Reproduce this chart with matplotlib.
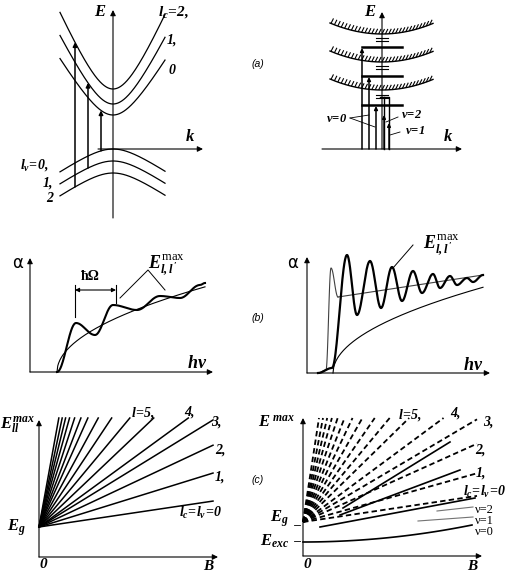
import numpy as np
import matplotlib.pyplot as plt
from matplotlib import transforms
from matplotlib.collections import LineCollection

plt.rcParams['mathtext.fontset'] = 'custom'
plt.rcParams['mathtext.rm'] = 'Liberation Serif:italic:bold'
plt.rcParams['mathtext.it'] = 'Liberation Serif:italic:bold'
plt.rcParams['mathtext.bf'] = 'Liberation Serif:bold'
plt.rcParams['mathtext.sf'] = 'Liberation Serif'
SERIF = 'Liberation Serif'

# ---- (a) left: Landau subbands vs k (panel units = px, E up) ----
a1_cond_E0 = [34, 45, 60]        # l_c = 0, 1, 2
a1_cond_A = [42, 51, 57]
a1_val_E0 = [0, -12, -24]        # l_v = 0, 1, 2
a1_val_A = [17, 17, 17]
a1_trans_k = [-12, -25, -38]     # l_v -> l_c transitions, l = 0, 1, 2

# ---- (a) right: exciton levels under hatched subbands ----
a2_band_E0 = [59, 87, 115]
a2_band_rise = 11
a2_levels = [44, 73, 102]
a2_marks = [54, 83, 111]
a2_arrow_k = [-20, -13, -6]
a2_arrow_top = [102, 73, 44]

# ---- (b) absorption spectra ----
b1_edge = 27
b1_sqrt_c = 7.0
b1_osc_x = [27, 46, 65, 83, 107, 130, 150, 170, 175]
b1_osc_y = [0, 49, 37, 67, 62, 76, 74, 87, 89]

b2_exc_x = [11, 19, 24, 31]
b2_exc_y = [0, 3, 105, 76]
b2_cont_end = (176, 98)
b2_osc_x = [11, 25, 40, 50, 63, 74, 85, 95, 106, 115, 126, 133, 143, 150, 160, 166, 176]
b2_osc_y = [0, 5, 118, 58, 112, 65, 106, 72, 102, 80, 99, 85, 97, 88, 95, 91, 98]
b2_edge = 26
b2_sqrt_c = 7.0

# ---- (c) fan charts vs B ----
c1_Eg = 30
c1_slopes = [0.149, 0.31, 0.47, 0.615, 0.73, 0.95, 1.2, 1.5, 1.84, 2.23,
             2.6, 3.06, 3.57, 4.1, 4.7, 5.5]
c2_Eg = 34
c2_Eexc = 14
c2_slopes = [0.15, 0.28, 0.45, 0.59, 0.74, 0.98, 1.2, 1.45, 1.75, 2.1,
             2.5, 3.0, 3.6, 4.3, 5.2, 6.5]
c2_solid = [((17, 29), (172, 58)), ((37, 41), (157, 86)), ((40, 48), (147, 114))]
c2_gray = [((134, 45), (170, 49)), ((115, 35), (170, 39))]
c2_nu0_end = (169, 31)

fig = plt.figure(figsize=(5.2, 5.72), dpi=100)
ax = fig.add_axes([0, 0, 1, 1])
ax.set_xlim(0, 520)
ax.set_ylim(0, 572)
ax.axis('off')


def tr(ox, oy):
    return transforms.Affine2D().translate(ox, 572 - oy) + ax.transData


def arrow(t, x0, y0, x1, y1, lw=0.8, ms=8):
    ax.annotate('', xy=(x1, y1), xytext=(x0, y0), xycoords=t, textcoords=t,
                arrowprops=dict(arrowstyle='-|>', color='k', lw=lw,
                                mutation_scale=ms, shrinkA=0, shrinkB=0))


def lab(t, x, y, s, size=10, **kw):
    kw.setdefault('family', SERIF)
    kw.setdefault('style', 'italic')
    kw.setdefault('weight', 'bold')
    ax.text(x, y, s, transform=t, fontsize=size, ha='center', va='center', **kw)


def through(xs, ys, n=40):
    X, Y = [], []
    for i in range(len(xs) - 1):
        t = np.linspace(0, 1, n)
        s = (1 - np.cos(np.pi * t)) / 2
        X.append(xs[i] + (xs[i + 1] - xs[i]) * t)
        Y.append(ys[i] + (ys[i + 1] - ys[i]) * s)
    return np.concatenate(X), np.concatenate(Y)


def hyp(k, b=25.0):
    return np.sqrt(1 + (k / b) ** 2) - 1


# ================= (a) left =================
t = tr(113, 149)
k = np.linspace(-53, 52, 200)
for E0, A in zip(a1_cond_E0, a1_cond_A):
    ax.plot(k, E0 + A * hyp(k), color='k', lw=0.9, transform=t)
for E0, A in zip(a1_val_E0, a1_val_A):
    ax.plot(k, E0 - A * hyp(k), color='k', lw=0.9, transform=t)
arrow(t, 0, -69, 0, 139)
arrow(t, -15, 0, 90, 0)
for kk, i in zip(a1_trans_k, range(3)):
    e0 = a1_val_E0[i] - a1_val_A[i] * hyp(kk)
    e1 = a1_cond_E0[i] + a1_cond_A[i] * hyp(kk)
    arrow(t, kk, e0, kk, e1, lw=1.1, ms=6)
lab(t, -13, 137, 'E', 12)
lab(t, 77, 12, 'k', 12)
lab(t, 60, 137, r'$l_c\!=\!2,$', 11)
lab(t, 59, 109, '1,', 10)
lab(t, 59, 79, '0', 10)
lab(t, -79, -16, r'$l_v\!=\!0,$', 10)
lab(t, -65, -34, '1,', 10)
lab(t, -63, -49, '2', 10)

# ================= (a) right =================
t = tr(382, 149)
k = np.linspace(-52, 51, 200)
for E0 in a2_band_E0:
    ax.plot(k, E0 + a2_band_rise * (k / 52) ** 2, color='k', lw=1.0, transform=t)
    kh = np.arange(-51, 50, 3.4)
    eh = E0 + a2_band_rise * (kh / 52) ** 2
    segs = [[(x, y), (x + 2.5, y + 5)] for x, y in zip(kh, eh)]
    ax.add_collection(LineCollection(segs, colors='k', lw=0.8, transform=t))
for E in a2_levels:
    ax.plot([-20, 20], [E, E], color='k', lw=1.8, transform=t)
for E in a2_marks:
    for dE in (0, -3):
        ax.plot([-6, 6], [E + dE, E + dE], color='k', lw=0.8, transform=t)
arrow(t, 0, 0, 0, 137)
arrow(t, -60, 0, 80, 0)
for kk, top in zip(a2_arrow_k, a2_arrow_top):
    arrow(t, kk, 0, kk, top - 1, lw=1.1, ms=5)
ax.plot([2, 2], [0, 52], color='k', lw=1.0, transform=t)
ax.plot([-2, 7, 7], [52, 52, 0], color='k', lw=1.0, transform=t)
arrow(t, 2, 0, 2, 34, lw=1.0, ms=5)
arrow(t, 7, 0, 7, 26, lw=1.0, ms=5)
lab(t, -12, 137, 'E', 12)
lab(t, 66, 12, 'k', 12)
lab(t, -45, 30, r'$\nu\!=\!0$', 9)
ax.plot([-32, -13], [31, 34], color='k', lw=0.6, transform=t)
ax.plot([-32, -7], [31, 22], color='k', lw=0.6, transform=t)
lab(t, 30, 34, r'$\nu\!=\!2$', 9)
ax.plot([16, 4], [32, 27], color='k', lw=0.6, transform=t)
lab(t, 33, 18, r'$\nu\!=\!1$', 9)
ax.plot([18, 8], [17, 14], color='k', lw=0.6, transform=t)

# ================= (b) left =================
t = tr(30, 372)
arrow(t, 0, 0, 0, 114)
arrow(t, 0, 0, 183, 0)
x = np.linspace(b1_edge, 175, 200)
ax.plot(x, b1_sqrt_c * np.sqrt(x - b1_edge), color='k', lw=0.8, transform=t)
ox, oy = through(b1_osc_x, b1_osc_y)
ax.plot(ox, oy, color='k', lw=1.5, transform=t)
ax.plot([45, 45], [55, 87], color='k', lw=0.8, transform=t)
ax.plot([86, 86], [69, 87], color='k', lw=0.8, transform=t)
ax.annotate('', xy=(45, 82), xytext=(86, 82), xycoords=t, textcoords=t,
            arrowprops=dict(arrowstyle='<|-|>', color='k', lw=0.8,
                            mutation_scale=6, shrinkA=0, shrinkB=0))
lab(t, 60, 96, 'ħΩ', 10, style='normal')
lab(t, 136, 107, r"$E^{\mathsf{max}}_{l,l'}$", 13)
ax.plot([90, 118, 135], [74, 102, 82], color='k', lw=0.7, transform=t)
lab(t, -12, 109, 'α', 12, family='DejaVu Sans', style='normal', weight='normal')
lab(t, 167, 8, r'$h\nu$', 13)

# ================= (b) right =================
t = tr(307, 373)
arrow(t, 0, 0, 0, 116)
arrow(t, 0, 0, 183, 0)
ex, ey = through(b2_exc_x, b2_exc_y)
ax.plot(ex, ey, color='0.25', lw=0.8, transform=t)
ax.plot([b2_exc_x[-1], b2_cont_end[0]], [b2_exc_y[-1], b2_cont_end[1]],
        color='0.25', lw=0.8, transform=t)
ox, oy = through(b2_osc_x, b2_osc_y)
ax.plot(ox, oy, color='k', lw=1.6, transform=t)
x = np.linspace(b2_edge, 176, 200)
ax.plot(x, b2_sqrt_c * np.sqrt(x - b2_edge), color='k', lw=0.8, transform=t)
lab(t, 134, 128, r"$E^{\mathsf{max}}_{l,l'}$", 13)
ax.plot([106, 86], [128, 105], color='k', lw=0.7, transform=t)
lab(t, -14, 110, 'α', 12, family='DejaVu Sans', style='normal', weight='normal')
lab(t, 166, 8, r'$h\nu$', 13)

# ================= (c) left =================
t = tr(39, 557)
arrow(t, 0, 0, 0, 137)
arrow(t, 0, 0, 179, 0)
for s in c1_slopes:
    xe = min(174, (139 - c1_Eg) / s)
    ax.plot([0, xe], [c1_Eg, c1_Eg + s * xe], color='k', lw=1.1, transform=t)
lab(t, -22, 132, r'$E_{ll}^{max}$', 12)
lab(t, -23, 29, r'$E_g$', 12)
lab(t, 4, -8, '0', 11)
lab(t, 169, -10, 'B', 11)
lab(t, 104, 144, r'$l\!=\!5,$', 10)
lab(t, 150, 145, '4,', 10)
lab(t, 177, 135, '3,', 10)
lab(t, 181, 107, '2,', 10)
lab(t, 181, 80, '1,', 10)
lab(t, 161, 44, r'$l_c\!=\!l_v\!=\!0$', 10)

# ================= (c) right =================
t = tr(303, 556)
arrow(t, 0, 0, 0, 138)
arrow(t, 0, 0, 179, 0)
for s in c2_slopes:
    xe = min(174, (138 - c2_Eg) / s)
    ax.plot([0, xe], [c2_Eg, c2_Eg + s * xe], color='k', lw=1.3,
            ls=(0, (3.0, 1.8)), transform=t)
for (x0, y0), (x1, y1) in c2_solid:
    ax.plot([x0, x1], [y0, y1], color='k', lw=1.2, transform=t)
for (x0, y0), (x1, y1) in c2_gray:
    ax.plot([x0, x1], [y0, y1], color='0.45', lw=0.8, transform=t)
x = np.linspace(0, c2_nu0_end[0], 100)
ax.plot(x, c2_Eexc + (c2_nu0_end[1] - c2_Eexc) * (x / c2_nu0_end[0]) ** 2,
        color='k', lw=1.2, transform=t)
lab(t, -26, 133, r'$E^{\;max}$', 12)
lab(t, -24, 37, r'$E_g$', 12)
lab(t, -28, 15, r'$E_{exc}$', 12)
ax.plot([-9, -3], [31, 31], color='k', lw=0.6, transform=t)
ax.plot([-9, -3], [15, 15], color='k', lw=0.6, transform=t)
lab(t, 4, -9, '0', 11)
lab(t, 169, -11, 'B', 11)
lab(t, 107, 141, r'$l\!=\!5,$', 10)
lab(t, 152, 143, '4,', 10)
lab(t, 185, 134, '3,', 10)
lab(t, 177, 106, '2,', 10)
lab(t, 178, 83, '1,', 10)
lab(t, 181, 64, r'$l_c\!=\!l_v\!=\!0$', 10)
lab(t, 181, 46, 'ν=2', 9, style='normal', weight='normal')
lab(t, 181, 35, 'ν=1', 9, style='normal', weight='normal')
lab(t, 181, 24, 'ν=0', 9, style='normal', weight='normal')

# panel tags
t = tr(0, 0)
for y, s in zip([64, 318, 480], ['(a)', '(b)', '(c)']):
    ax.text(258, -y, s, transform=t, fontsize=7.5, ha='center', va='center',
            family='Liberation Sans', style='italic')

fig.savefig('out.png', dpi=100)
